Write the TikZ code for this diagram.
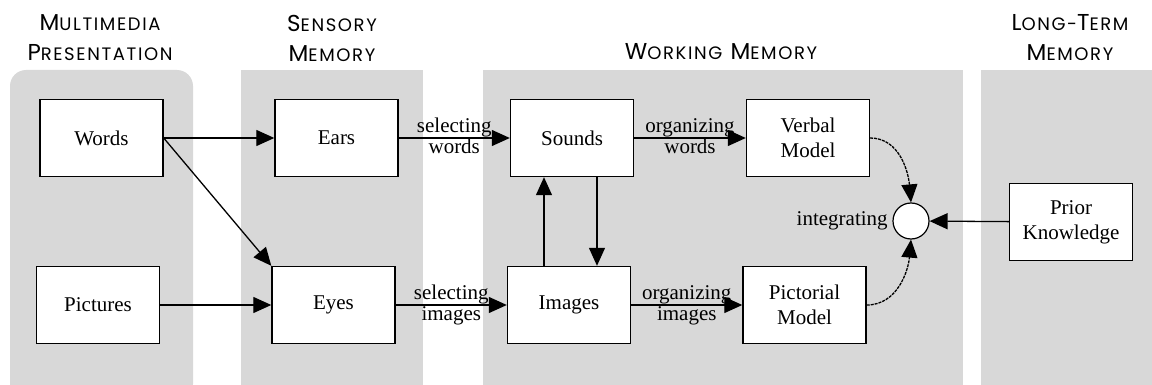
\documentclass[tikz,border=0pt]{standalone}
\usepackage{fontspec}
\setmainfont{Liberation Serif}
\newfontfamily\headfont[LetterSpace=9]{Poppins}
\usepackage{tikz}
\usetikzlibrary{arrows.meta, positioning}
\definecolor{panelgray}{RGB}{216,216,216}
% fake small caps for the column titles
\newcommand{\hsc}[2]{{\fontsize{23}{30}\selectfont #1}{\fontsize{18}{30}\selectfont #2}}

\begin{document}
\begin{tikzpicture}[x=1pt, y=-1pt,
    box/.style={draw, line width=1.4pt, fill=white, minimum width=123pt, minimum height=77pt,
        align=center, font=\fontsize{21}{25}\selectfont},
    arr/.style={-{Triangle[length=18pt, width=16pt]}, line width=1.3pt},
    lbl/.style={font=\fontsize{21}{24}\selectfont, inner sep=0.5pt},
    title/.style={font=\headfont\fontsize{23}{30}\selectfont, align=center}]
    \useasboundingbox (0,0) rectangle (1152,385);

    % Column panels
    \fill[panelgray, rounded corners=16pt] (10,70) rectangle (193,400);
    \fill[panelgray] (241,70) rectangle (423,400);
    \fill[panelgray] (483,70) rectangle (963,400);
    \fill[panelgray] (981,70) rectangle (1160,400);

    % Column titles
    \node[title] (tmulti) at (100,38) {\hsc{M}{ULTIMEDIA}\\\hsc{P}{RESENTATION}};
    \node[title] (tsens) at (332,38) {\hsc{S}{ENSORY}\\\hsc{M}{EMORY}};
    \node[title] (twork) at (721,52) {\hsc{W}{ORKING} \hsc{M}{EMORY}};
    \node[title] (tlong) at (1070,38) {\hsc{L}{ONG-}\hsc{T}{ERM}\\\hsc{M}{EMORY}};

    % Boxes
    \node[box] (words) at (101.5,138) {Words};
    \node[box] (pictures) at (98,305) {Pictures};
    \node[box] (ears) at (336.5,138) {Ears};
    \node[box] (eyes) at (333.5,305) {Eyes};
    \node[box] (sounds) at (572,138) {Sounds};
    \node[box] (images) at (569,305) {Images};
    \node[box] (verbal) at (808,138) {Verbal\\Model};
    \node[box] (pictorial) at (804.5,305) {Pictorial\\Model};
    \node[box] (prior) at (1071,222) {Prior\\Knowledge};
    \node[circle, draw, line width=1.2pt, fill=white, minimum size=36pt, inner sep=0pt] (integ) at (911,221) {};
    \node[lbl, left=4pt of integ] (integlbl) {integrating};

    \coordinate (upx) at (544,0);
    \coordinate (downx) at (597,0);

    % Connectors
    \draw[arr] (words) -- (ears);
    \draw[arr] (words.east) -- (eyes.north west);
    \draw[arr] (pictures) -- (eyes);
    \draw[arr] (ears) -- node[lbl, above] {selecting} node[lbl, below] {words} (sounds);
    \draw[arr] (eyes) -- node[lbl, above] {selecting} node[lbl, below] {images} (images);
    \draw[arr] (sounds) -- node[lbl, above] {organizing} node[lbl, below] {words} (verbal);
    \draw[arr] (images) -- node[lbl, above] {organizing} node[lbl, below] {images} (pictorial);
    \draw[arr] (images.north -| upx) -- (sounds.south -| upx);
    \draw[arr] (sounds.south -| downx) -- (images.north -| downx);
    \draw[arr, dashed, dash pattern=on 3pt off 1pt] (verbal.east) to[out=0, in=95] (integ.north);
    \draw[arr, dashed, dash pattern=on 3pt off 1pt] (pictorial.east) to[out=0, in=-95] (integ.south);
    \draw[arr] (prior) -- (integ);
\end{tikzpicture}
\end{document}
